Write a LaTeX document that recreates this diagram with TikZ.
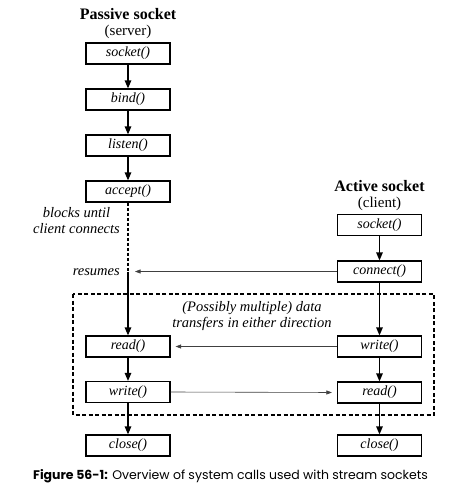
\documentclass[tikz,border=0pt]{standalone}
\usepackage{fontspec}
\setmainfont{Liberation Serif}
\newfontfamily\capfont{Poppins}
\usetikzlibrary{arrows.meta}
\begin{document}
\begin{tikzpicture}[x=1pt,y=-1pt,
  call/.style={draw,line width=1.2pt,minimum width=84pt,minimum height=21pt,inner sep=0pt,font=\fontsize{14}{16}\selectfont\itshape},
  flow/.style={line width=1.2pt,-{Triangle[length=8pt,width=6.5pt]}},
  msg/.style={line width=0.6pt,draw=black!75,-{Triangle[length=5.5pt,width=4pt]}},
  lbl/.style={font=\fontsize{14.5}{17}\selectfont\itshape,align=center,inner sep=0pt},
  ttl/.style={font=\fontsize{16}{18}\selectfont\bfseries,inner sep=0pt},
  sub/.style={font=\fontsize{15}{17}\selectfont,inner sep=0pt}]
\useasboundingbox (0,0) rectangle (474,491);
% titles
\node[ttl] (pt) at (128,14) {Passive socket};
\node[sub] (ps) at (128,32) {(server)};
\node[ttl] (at) at (379.5,186) {Active socket};
\node[sub] (as) at (379.5,204) {(client)};
% left column
\node[call] (sL) at (128,53.5) {socket()};
\node[call] (bL) at (128,99.5) {bind()};
\node[call] (lL) at (128,145.5) {listen()};
\node[call] (aL) at (128,191.5) {accept()};
\node[call] (rL) at (128,346.5) {read()};
\node[call] (wL) at (128,392) {write()};
\node[call] (cL) at (128,445.5) {close()};
% right column
\node[call] (sR) at (379.5,225) {socket()};
\node[call] (nR) at (379.5,271.5) {connect()};
\node[call] (wR) at (379.5,346.5) {write()};
\node[call] (rR) at (379.5,392.5) {read()};
\node[call] (cR) at (379.5,445.5) {close()};
\coordinate (res) at (128,271.5);
% dashed box
\draw[line width=1.2pt,dash pattern=on 4pt off 2.5pt] (73,294) rectangle (434,415);
% labels
\node[lbl] (blk) at (76.5,220.5) {blocks until\\[-1pt]client connects};
\node[lbl,anchor=east] (rsm) at (120,272) {resumes};
\node[lbl] (pm) at (252,316) {(Possibly multiple) data\\[-1pt]transfers in either direction};
% left flow
\draw[flow] (sL) -- (bL);
\draw[flow] (bL) -- (lL);
\draw[flow] (lL) -- (aL);
\draw[line width=1.2pt,dash pattern=on 3pt off 2pt] (aL.south) -- (res);
\draw[flow] (res) -- (rL);
\draw[flow] (rL) -- (wL);
\draw[flow] (wL) -- (cL);
% right flow
\draw[flow] (sR) -- (nR);
\draw[flow] (nR) -- (wR);
\draw[flow] (wR) -- (rR);
\draw[flow] (rR) -- (cR);
% messages
\draw[msg,shorten >=7pt] (nR.west) -- (res);
\draw[msg,shorten >=5pt] (wR.west) -- (rL.east);
\draw[msg,shorten >=5pt] (wL.east) -- (rR.west);
% caption
\node[anchor=base west,inner sep=0pt,font=\capfont\fontsize{12.5}{15}\selectfont] (cap) at (33,479) {\textbf{Figure 56-1:} Overview of system calls used with stream sockets};
\end{tikzpicture}
\end{document}
